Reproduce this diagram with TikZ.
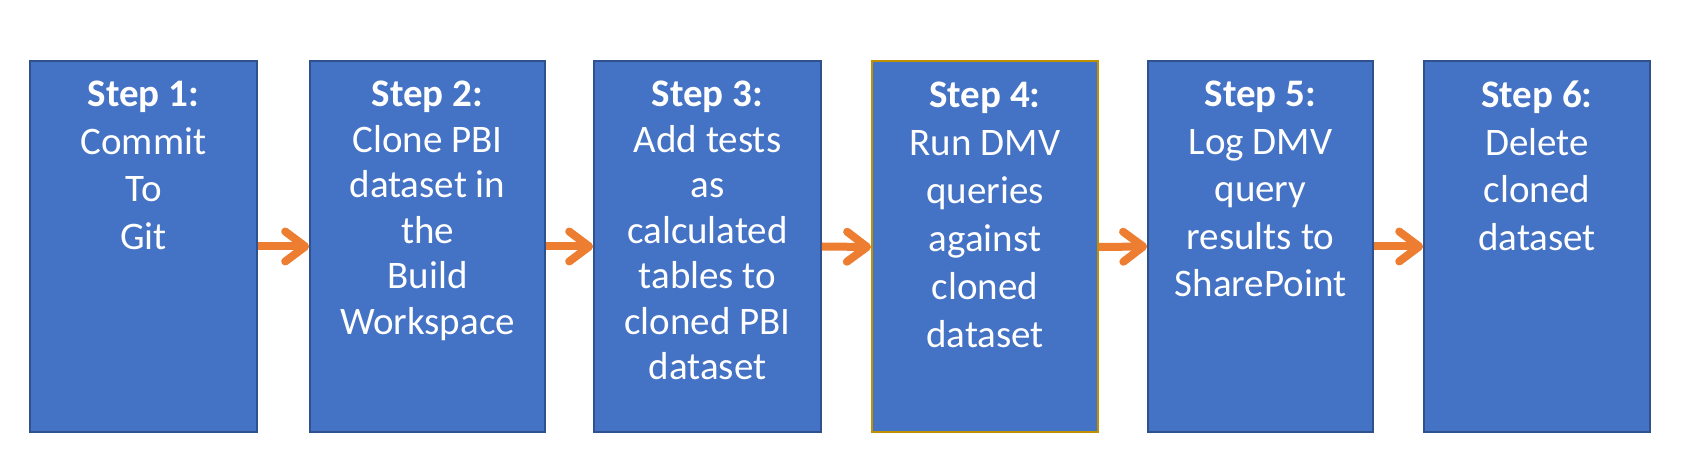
\documentclass[tikz,border=0pt]{standalone}
\usepackage{fontspec}
\setmainfont{Carlito}
\usetikzlibrary{arrows.meta}
\definecolor{boxfill}{HTML}{4472C4}
\definecolor{boxedge}{HTML}{2F528F}
\definecolor{goldedge}{HTML}{BF9000}
\definecolor{arroworange}{HTML}{ED7D31}
\tikzset{
  stepbox/.style={draw=boxedge, line width=1.6pt, fill=boxfill, minimum height=371pt, inner sep=0pt},
  steptext/.style={anchor=north, text=white, align=center, inner sep=0pt,
    font=\fontsize{39pt}{47.5pt}\selectfont},
  tighttext/.style={steptext, font=\fontsize{39pt}{45.5pt}\selectfont},
  loosetext/.style={steptext, font=\fontsize{39pt}{48pt}\selectfont},
  flowarrow/.style={draw=arroworange, line width=8pt,
    -{Straight Barb[length=20pt,width=30pt,round]}}
}
\begin{document}
\begin{tikzpicture}[x=1pt,y=1pt]
\useasboundingbox (0,0) rectangle (1706,454);
\node[stepbox, minimum width=227pt] (b1) at (143.5,207.5) {};
\node[stepbox, minimum width=235pt] (b2) at (427.5,207.5) {};
\node[stepbox, minimum width=227pt] (b3) at (707.5,207.5) {};
\node[stepbox, minimum width=226pt, draw=goldedge, line width=2pt] (b4) at (985,207) {};
\node[stepbox, minimum width=225pt] (b5) at (1260.5,207.5) {};
\node[stepbox, minimum width=226pt] (b6) at (1537,207.5) {};
\node[steptext] (t1) at (143.5,373) {\textbf{Step 1:}\\Commit\\To\\Git};
\node[tighttext] (t2) at (427.5,373) {\textbf{Step 2:}\\Clone PBI\\dataset in\\the\\Build\\Workspace};
\node[tighttext] (t3) at (707.5,373) {\textbf{Step 3:}\\Add tests\\as\\calculated\\tables to\\cloned PBI\\dataset};
\node[loosetext] (t4) at (985,372) {\textbf{Step 4:}\\Run DMV\\queries\\against\\cloned\\dataset};
\node[steptext] (t5) at (1260.5,373) {\textbf{Step 5:}\\Log DMV\\query\\results to\\SharePoint};
\node[steptext] (t6) at (1537,373) {\textbf{Step 6:}\\Delete\\cloned\\dataset};
\draw[flowarrow] (b1.east) -- (b2.west);
\draw[flowarrow] (b2.east) -- (b3.west);
\draw[flowarrow] (b3.east) -- (b4.west);
\draw[flowarrow] (b4.east) -- (b5.west);
\draw[flowarrow] (b5.east) -- (b6.west);
\end{tikzpicture}
\end{document}
